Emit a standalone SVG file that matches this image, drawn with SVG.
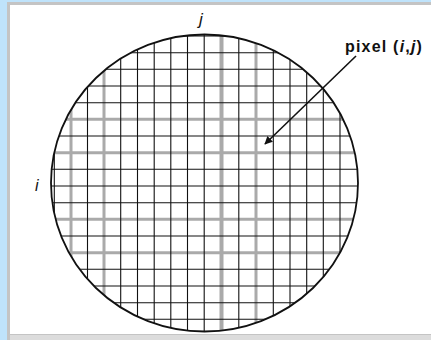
<svg xmlns="http://www.w3.org/2000/svg" width="431" height="340" viewBox="0 0 431 340">
<style>
.g{stroke:#111;stroke-width:1.1}
.gy{stroke:#aaa;stroke-width:3}
.gt{stroke:#aaa;stroke-width:4}
.lbl{font-family:"Liberation Sans",Arial,sans-serif;fill:#111}
</style>
<defs>
<clipPath id="c"><ellipse cx="204.5" cy="183" rx="153.5" ry="148.5"/></clipPath>
<marker id="ah" viewBox="0 0 10 10" refX="9" refY="5" markerWidth="5" markerHeight="5" orient="auto"><path d="M0,0 L10,5 L0,10 z" fill="#111"/></marker>
</defs>
<rect x="0" y="0" width="431" height="340" fill="#bfe3fb"/>
<rect x="7" y="2" width="424" height="338" fill="#c4c4c4"/>
<rect x="10" y="5" width="421" height="329" fill="#fff"/>
<rect x="10" y="335" width="421" height="5" fill="#dcdcdc"/>
<g id="circle-grid">
<g clip-path="url(#c)">
<g class="gy">
<line x1="71" y1="0" x2="71" y2="340"/>
<line x1="104" y1="0" x2="104" y2="340"/>
<line x1="256" y1="0" x2="256" y2="340"/>
<line x1="0" y1="119.3" x2="431" y2="119.3"/>
<line x1="0" y1="152.7" x2="431" y2="152.7"/>
<line x1="0" y1="219.3" x2="431" y2="219.3"/>
<line x1="0" y1="252.7" x2="431" y2="252.7"/>
</g>
<line class="gt" x1="221.5" y1="0" x2="221.5" y2="340"/>
<g class="g">
<line x1="54.3" y1="0" x2="54.3" y2="340"/>
<line x1="87.5" y1="0" x2="87.5" y2="340"/>
<line x1="120.7" y1="0" x2="120.7" y2="340"/>
<line x1="137.5" y1="0" x2="137.5" y2="340"/>
<line x1="154.2" y1="0" x2="154.2" y2="340"/>
<line x1="170.8" y1="0" x2="170.8" y2="340"/>
<line x1="187.5" y1="0" x2="187.5" y2="340"/>
<line x1="204.2" y1="0" x2="204.2" y2="340"/>
<line x1="238.8" y1="0" x2="238.8" y2="340"/>
<line x1="273.3" y1="0" x2="273.3" y2="340"/>
<line x1="290" y1="0" x2="290" y2="340"/>
<line x1="306.7" y1="0" x2="306.7" y2="340"/>
<line x1="323.3" y1="0" x2="323.3" y2="340"/>
<line x1="340" y1="0" x2="340" y2="340"/>
<line x1="0" y1="36" x2="431" y2="36"/>
<line x1="0" y1="52.7" x2="431" y2="52.7"/>
<line x1="0" y1="69.3" x2="431" y2="69.3"/>
<line x1="0" y1="86" x2="431" y2="86"/>
<line x1="0" y1="102.7" x2="431" y2="102.7"/>
<line x1="0" y1="136" x2="431" y2="136"/>
<line x1="0" y1="169.3" x2="431" y2="169.3"/>
<line x1="0" y1="186" x2="431" y2="186"/>
<line x1="0" y1="202.7" x2="431" y2="202.7"/>
<line x1="0" y1="236" x2="431" y2="236"/>
<line x1="0" y1="269.3" x2="431" y2="269.3"/>
<line x1="0" y1="286" x2="431" y2="286"/>
<line x1="0" y1="302.7" x2="431" y2="302.7"/>
<line x1="0" y1="319.3" x2="431" y2="319.3"/>
</g>
</g>
<ellipse cx="204.5" cy="183" rx="153.5" ry="148.5" fill="none" stroke="#111" stroke-width="1.8"/>
</g>
<g id="labels">
<text class="lbl" x="199" y="25" font-size="17" font-style="italic">j</text>
<text class="lbl" x="35" y="191" font-size="16" font-style="italic">i</text>
<text class="lbl" x="345" y="52" font-size="16" font-weight="bold" letter-spacing="1.2">pixel (<tspan font-style="italic">i</tspan>,<tspan font-style="italic">j</tspan>)</text>
</g>
<g id="connectors">
<line x1="356" y1="56" x2="265" y2="144" stroke="#111" stroke-width="1.6" marker-end="url(#ah)"/>
</g>
</svg>
